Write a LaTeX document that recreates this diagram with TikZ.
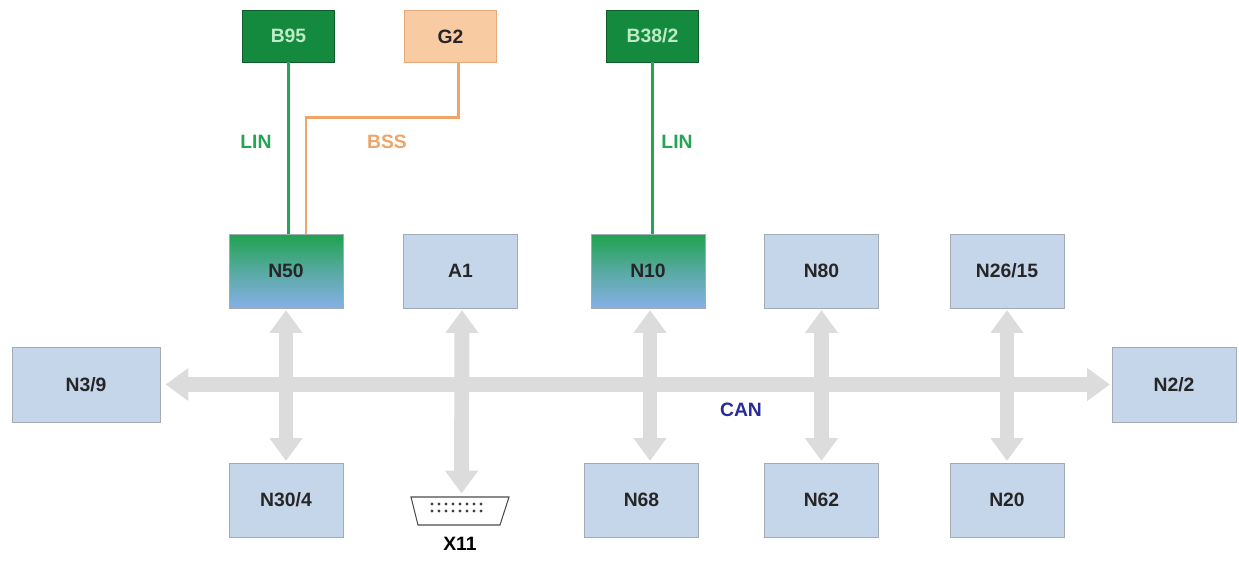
\documentclass[tikz,border=0pt]{standalone}
\usepackage{fontspec}
\setmainfont{Liberation Sans}
\usepackage{xcolor}
\usepackage{tikz}
\usetikzlibrary{positioning,calc,arrows.meta}

\definecolor{ecublue}{HTML}{C6D6EA}
\definecolor{ecuedge}{HTML}{A3ABB5}
\definecolor{sensgreen}{HTML}{138A3E}
\definecolor{sensedge}{HTML}{0E5A2A}
\definecolor{senstext}{HTML}{BDEBC6}
\definecolor{lingreen}{HTML}{23A553}
\definecolor{bssorange}{HTML}{EFA468}
\definecolor{genfill}{HTML}{F9CBA3}
\definecolor{genedge}{HTML}{E7A97C}
\definecolor{busgrey}{HTML}{DCDCDC}
\definecolor{canblue}{HTML}{2A2A99}
\definecolor{gwtop}{HTML}{1FA24D}
\definecolor{gwbot}{HTML}{86B0E6}

\begin{document}
\begin{tikzpicture}[x=0.02cm, y=-0.02cm,
    font=\bfseries\fontsize{11}{13}\selectfont,
    ecu/.style={draw=ecuedge, fill=ecublue, text=black!85, minimum width=2.28cm, minimum height=1.48cm, inner sep=0pt},
    gateway/.style={ecu, top color=gwtop, bottom color=gwbot, middle color=gwtop!45!gwbot},
    sensor/.style={draw=sensedge, fill=sensgreen, text=senstext, minimum width=1.84cm, minimum height=1.04cm, inner sep=0pt},
    bus/.style={busgrey, line width=8.5pt, {Triangle[width=18pt,length=13pt]}-{Triangle[width=18pt,length=13pt]}},
    link/.style={line width=1.6pt}]
    \useasboundingbox (0,0) rectangle (1239,561);

    % Sensors on top
    \node [sensor] (B95) at (288.5,36) {B95};
    \node [sensor, draw=genedge, fill=genfill, text=black!85] (G2) at (450.5,36.5) {G2};
    \node [sensor] (B382) at (652.5,36) {B38/2};

    % Upper row
    \node [gateway] (N50) at (286,271) {N50};
    \node [ecu] (A1) at (460.5,271) {A1};
    \node [gateway] (N10) at (648,271) {N10};
    \node [ecu] (N80) at (821.5,271) {N80};
    \node [ecu] (N2615) at (1007,271) {N26/15};

    % Bus ends
    \node [ecu, minimum width=2.96cm, minimum height=1.5cm] (N39) at (86,384.5) {N3/9};
    \node [ecu, minimum width=2.48cm, minimum height=1.5cm] (N22) at (1174,384.5) {N2/2};

    % Lower row
    \node [ecu] (N304) at (286,500) {N30/4};
    \node [ecu] (N68) at (641.5,500) {N68};
    \node [ecu] (N62) at (821.5,500) {N62};
    \node [ecu] (N20) at (1007,500) {N20};

    % Diagnostic socket
    \coordinate (X11) at (460,497);
    \coordinate (X11bot) at (460,525);
    \draw [black!70, line width=0.6pt] (411,497) -- (509,497) -- (500,525) -- (418,525) -- cycle;
    \foreach \i in {0,...,7} {
        \fill [black!75] (432+7*\i,504) circle (0.9pt);
        \fill [black!75] (432+7*\i,511) circle (0.9pt);
    }
    \node [below=7pt of X11bot, inner sep=0pt] (X11label) {X11};

    % CAN bus
    \draw [bus, shorten <=3pt, shorten >=1pt] (N39.east) -- (N22.west);
    \draw [bus, shorten <=1pt, shorten >=1pt] (N50.south) -- (N304.north);
    \draw [bus, shorten <=1pt, shorten >=2pt] ($(A1.south)+(1.5,0)$) -- ($(X11)+(1.5,0)$);
    \draw [bus, shorten <=1pt, shorten >=1pt] ($(N10.south)+(2,0)$) -- ($(N10.south |- N68.north)+(2,0)$);
    \draw [bus, shorten <=1pt, shorten >=1pt] (N80.south) -- (N62.north);
    \draw [bus, shorten <=1pt, shorten >=1pt] (N2615.south) -- (N20.north);
    \node [text=canblue] (CAN) at (741,410) {CAN};

    % LIN and BSS links
    \draw [link, lingreen] (B95.south) -- (B95.south |- N50.north);
    \node [text=lingreen] (LINa) at (256,142) {LIN};
    \draw [link, bssorange] ($(G2.south)+(8,0)$) -- ++(0,55) -| ($(N50.north)+(20,0)$);
    \node [text=bssorange] (BSS) at (387,142) {BSS};
    \draw [link, lingreen] (B382.south) -- (B382.south |- N10.north);
    \node [text=lingreen] (LINb) at (677,142) {LIN};
\end{tikzpicture}
\end{document}
